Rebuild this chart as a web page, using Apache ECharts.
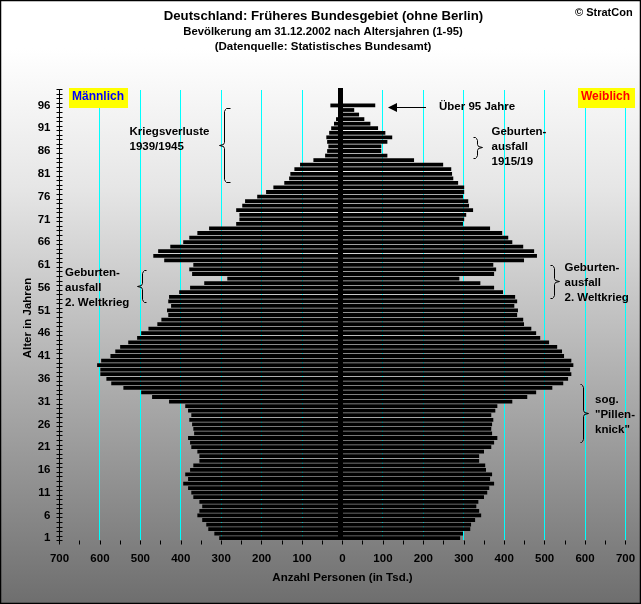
<!DOCTYPE html>
<html lang="de">
<head>
  <meta charset="UTF-8">
  <title>Deutschland: Früheres Bundesgebiet</title>
  <style type="text/css">
    html, body { margin: 0; padding: 0; overflow: hidden; }
    #main { width: 641px; height: 604px; }
  </style>
  <script src="https://cdn.jsdelivr.net/npm/echarts@6/dist/echarts.min.js"></script>
</head>
<body>
  <div id="main"></div>
  <script type="text/javascript">
    // Alter 1 bis 99, Werte in Tsd. (Index 0 = Alter 1)
    var ages = [];
    for (var a = 1; a <= 99; a++) { ages.push(String(a)); }

    var male = [305, 317, 332, 337, 347, 359, 354, 347, 354, 369,
      374, 382, 394, 382, 389, 377, 369, 354, 354, 359,
      374, 377, 382, 367, 369, 372, 379, 374, 382, 389,
      429, 471, 498, 542, 572, 584, 599, 599, 607, 597,
      574, 562, 550, 530, 508, 498, 480, 458, 448, 431,
      434, 424, 431, 429, 404, 377, 342, 285, 372, 379,
      369, 441, 468, 456, 426, 394, 379, 359, 330, 263,
      255, 255, 263, 248, 241, 211, 189, 171, 144, 132,
      129, 119, 105, 72, 43, 38, 35, 38, 40, 33,
      28, 21, 16, 11, 8, 30];

    var female = [291, 298, 316, 318, 328, 343, 338, 331, 336, 350,
      358, 363, 375, 365, 370, 355, 353, 338, 338, 350,
      368, 375, 383, 370, 368, 370, 373, 368, 378, 383,
      420, 457, 479, 519, 546, 558, 566, 563, 571, 566,
      548, 543, 531, 511, 489, 479, 467, 449, 447, 432,
      434, 425, 432, 427, 397, 375, 341, 289, 375, 380,
      373, 449, 481, 474, 447, 420, 410, 395, 365, 298,
      301, 306, 323, 313, 311, 298, 301, 301, 286, 274,
      271, 269, 249, 177, 111, 96, 96, 111, 123, 106,
      88, 69, 54, 41, 29, 81];

    var gridValues = [-600, -500, -400, -300, -200, -100, 100, 200, 300, 400, 500, 600, 700];

    var FONT = '"Liberation Sans", Arial, sans-serif';

    function label(x, y, text, size, color, align) {
      return {
        type: 'text', x: x, y: y, z: 100,
        style: {
          text: text, fill: color || '#000', align: align || 'left', verticalAlign: 'middle',
          font: 'bold ' + (size || 11.5) + 'px ' + FONT
        }
      };
    }

    // geschweifte Klammer, dir = 1 Spitze nach rechts, dir = -1 nach links
    function brace(x, top, mid, bottom, dir, end) {
      return {
        type: 'polyline', z: 100,
        shape: {
          points: [
            [x - end * dir, top], [x - 2 * dir, top], [x - dir, top + 1], [x, top + 3],
            [x, mid - 3], [x + dir, mid - 1], [x + 5 * dir, mid], [x + dir, mid + 1], [x, mid + 3],
            [x, bottom - 3], [x - dir, bottom - 1], [x - 2 * dir, bottom], [x - end * dir, bottom]
          ]
        },
        style: { fill: null, stroke: '#000', lineWidth: 1 }
      };
    }

    var graphics = [
      // Rahmen
      { type: 'rect', z: 120, shape: { x: 0, y: 0, width: 641, height: 604 },
        style: { fill: null, stroke: '#000', lineWidth: 2.5 } },
      // Mittelachse
      { type: 'rect', z: 90, shape: { x: 338, y: 88, width: 5, height: 452 }, style: { fill: '#000' } },
      // Legende
      { type: 'rect', z: 95, shape: { x: 69, y: 88, width: 59, height: 20 }, style: { fill: '#ffff00' } },
      { type: 'rect', z: 95, shape: { x: 578, y: 88, width: 57, height: 20 }, style: { fill: '#ffff00' } },
      label(72, 97, 'Männlich', 12, '#0000ff'),
      label(581, 97, 'Weiblich', 12, '#ff0000'),
      // Titel
      label(323.5, 16, 'Deutschland: Früheres Bundesgebiet (ohne Berlin)', 13.2, '#000', 'center'),
      label(323, 32, 'Bevölkerung am 31.12.2002 nach Altersjahren (1-95)', 11.3, '#000', 'center'),
      label(323, 47, '(Datenquelle: Statistisches Bundesamt)', 11.5, '#000', 'center'),
      label(575, 13, '© StratCon', 11),
      // Pfeil
      { type: 'line', z: 100, shape: { x1: 396, y1: 107.5, x2: 426, y2: 107.5 },
        style: { stroke: '#000', lineWidth: 1 } },
      { type: 'polygon', z: 100, shape: { points: [[388, 107.5], [397, 103], [397, 112]] },
        style: { fill: '#000' } },
      label(439, 106.5, 'Über 95 Jahre'),
      // Anmerkungen
      label(129.5, 132, 'Kriegsverluste'),
      label(129.5, 147, '1939/1945'),
      brace(224.5, 108.5, 145.5, 182.5, -1, 6),
      label(491.5, 132, 'Geburten-'),
      label(491.5, 147, 'ausfall'),
      label(491.5, 162, '1915/19'),
      brace(477.5, 137.5, 147.5, 158.5, 1, 4),
      label(65, 273, 'Geburten-'),
      label(65, 288, 'ausfall'),
      label(65, 303, '2. Weltkrieg'),
      brace(142.5, 270.5, 286.5, 302.5, -1, 4),
      label(564.5, 268, 'Geburten-'),
      label(564.5, 283, 'ausfall'),
      label(564.5, 298, '2. Weltkrieg'),
      brace(554.5, 265.5, 281.5, 298.5, 1, 4),
      label(595, 400, 'sog.'),
      label(595, 415, '"Pillen-'),
      label(595, 430, 'knick"'),
      brace(583.5, 384.5, 413.5, 442.5, 1, 3)
    ];

    var chartDom = document.getElementById('main');
    var myChart = echarts.init(chartDom, null, { renderer: 'canvas', devicePixelRatio: 1 });

    var option = {
      animation: false,
      backgroundColor: {
        type: 'linear', x: 0, y: 0, x2: 0, y2: 1,
        colorStops: [
          { offset: 0, color: '#ffffff' },
          { offset: 0.08, color: '#ffffff' },
          { offset: 0.31, color: '#e6e6e6' },
          { offset: 0.61, color: '#b2b2b2' },
          { offset: 1, color: '#6e6e6e' }
        ]
      },
      grid: { left: 59.5, top: 89.5, width: 566, height: 451 },
      xAxis: {
        type: 'value', min: -700, max: 700, interval: 100,
        name: 'Anzahl Personen (in Tsd.)', nameLocation: 'middle', nameGap: 31, nameMoveOverlap: false,
        nameTextStyle: { color: '#000', fontWeight: 'bold', fontSize: 11.5, fontFamily: FONT },
        axisLine: { lineStyle: { color: '#000', width: 1 } },
        axisTick: { show: true, length: 4, lineStyle: { color: '#000' } },
        minorTick: { show: true, splitNumber: 2, length: 4, lineStyle: { color: '#000' } },
        axisLabel: {
          color: '#000', fontWeight: 'bold', fontSize: 11.5, fontFamily: FONT, margin: 12,
          formatter: function (v) { return Math.abs(v); }
        },
        splitLine: { show: false }
      },
      yAxis: [{
        type: 'category', data: ages, position: 'left',
        name: 'Alter in Jahren', nameLocation: 'middle', nameGap: 26, nameMoveOverlap: false,
        nameTextStyle: { color: '#000', fontWeight: 'bold', fontSize: 11.5, fontFamily: FONT, padding: [0, 6, 0, 0] },
        axisLine: { onZero: false, lineStyle: { color: '#000', width: 1 } },
        axisTick: { show: true, interval: 0, length: 3, lineStyle: { color: '#000' } },
        axisLabel: { interval: 4, color: '#000', fontWeight: 'bold', fontSize: 11.5, fontFamily: FONT, margin: 9 },
        splitLine: { show: false }
      }, {
        // nur fuer die Striche nach innen
        type: 'category', data: ages, position: 'left',
        axisLine: { show: false, onZero: false },
        axisTick: { show: true, interval: 0, inside: true, length: 3, lineStyle: { color: '#000' } },
        axisLabel: { show: false },
        splitLine: { show: false }
      }],
      series: [{
        name: 'Männlich', type: 'bar', barWidth: 3.8, barGap: '-100%',
        itemStyle: { color: '#000' }, silent: true,
        data: male.map(function (v) { return -v; })
      }, {
        name: 'Weiblich', type: 'bar', barWidth: 3.8, barGap: '-100%',
        itemStyle: { color: '#000' }, silent: true,
        data: female
      }]
    };

    myChart.setOption(option);

    // Gitterlinien ueber die Achse umrechnen und auf ganze Pixel setzen, damit alle gleich kraeftig sind
    gridValues.forEach(function (v) {
      var px = Math.floor(myChart.convertToPixel({ xAxisIndex: 0 }, v)) + 0.5;
      graphics.push({
        type: 'line', z: 1, shape: { x1: px, y1: 90, x2: px, y2: 540 },
        style: { stroke: '#00ffff', lineWidth: 1 }
      });
    });
    myChart.setOption({ graphic: { elements: graphics } });
  </script>
</body>
</html>
